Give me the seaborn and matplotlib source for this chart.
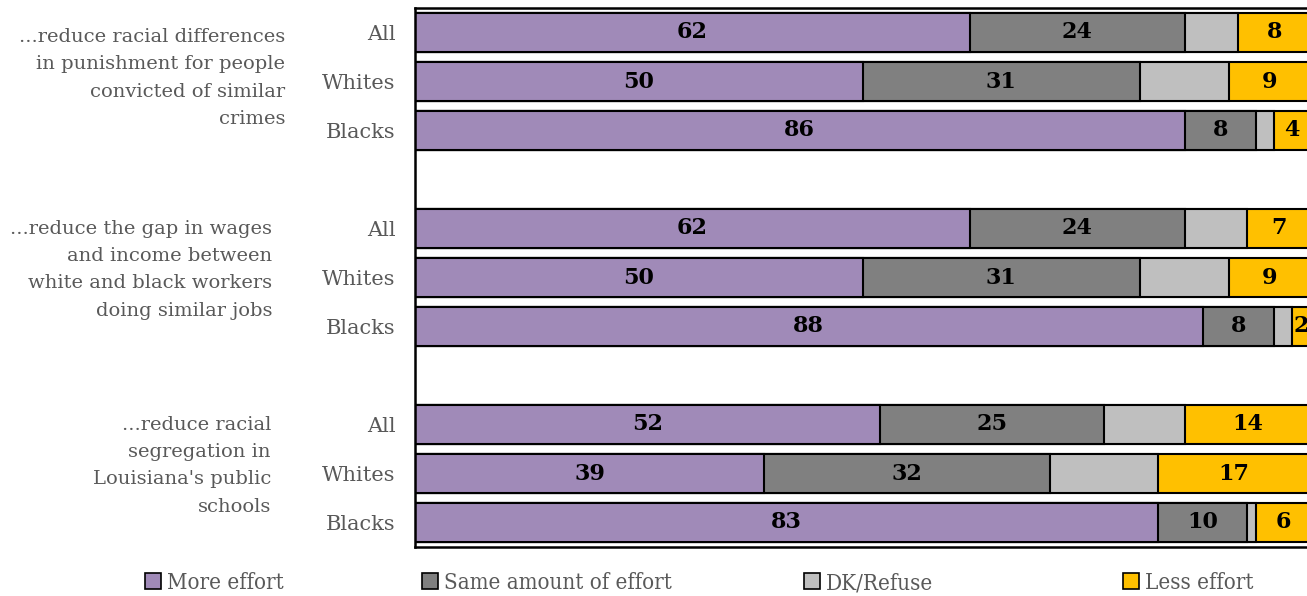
import matplotlib
matplotlib.use("Agg")
import matplotlib.pyplot as plt
import matplotlib.transforms as mtransforms
from matplotlib.patches import Patch
import numpy as np
import pandas as pd
import seaborn as sns

# Survey responses (percent) per group
questions = [
    "...reduce racial differences\nin punishment for people\nconvicted of similar\ncrimes",
    "...reduce the gap in wages\nand income between\nwhite and black workers\ndoing similar jobs",
    "...reduce racial\nsegregation in\nLouisiana's public\nschools",
]
groups = ["All", "Whites", "Blacks"]
more_effort = [62, 50, 86, 62, 50, 88, 52, 39, 83]
same_effort = [24, 31, 8, 24, 31, 8, 25, 32, 10]
dk_refuse = [6, 10, 2, 7, 10, 2, 9, 12, 1]
less_effort = [8, 9, 4, 7, 9, 2, 14, 17, 6]
series_names = ["More effort", "Same amount of effort", "DK/Refuse", "Less effort"]
colors = ["#A08AB8", "#808080", "#BFBFBF", "#FFC000"]

sns.set_theme(style="white")
plt.rcParams["font.family"] = ["DejaVu Serif"]

# row positions: three bars per question, one empty slot between questions
pos = []
for q in range(len(questions)):
    pos += [q * 4 + i for i in range(3)]

df = pd.DataFrame({
    "pos": pos,
    "label": groups * len(questions),
    "more": more_effort,
    "same": same_effort,
    "dk": dk_refuse,
    "less": less_effort,
})
df["c1"] = df["more"]
df["c2"] = df["c1"] + df["same"]
df["c3"] = df["c2"] + df["dk"]
df["c4"] = df["c3"] + df["less"]

W, H = 1307, 596
fig = plt.figure(figsize=(W / 100, H / 100), dpi=100)
ax = fig.add_axes([415 / W, 49 / H, 895 / W, 539 / H])

# overlay cumulative totals, widest first, to build the stacks
for col, color in zip(["c4", "c3", "c2", "c1"], colors[::-1]):
    sns.barplot(data=df, x=col, y="pos", orient="h", native_scale=True,
                color=color, saturation=1, width=0.8, edgecolor="black",
                linewidth=1.5, ax=ax)

ax.set_xlim(0, 100)
ax.set_ylim(10.5, -0.5)
ax.set_xlabel("")
ax.set_ylabel("")
ax.set_xticks([])
ax.set_yticks(df["pos"])
ax.set_yticklabels(df["label"], color="#595959", fontsize=15)
ax.tick_params(axis="y", length=0, pad=14)
for side in ["left", "top", "bottom"]:
    ax.spines[side].set_visible(True)
    ax.spines[side].set_color("black")
    ax.spines[side].set_linewidth(1.8)
ax.spines["right"].set_visible(False)

# value labels on each labelled segment
for _, r in df.iterrows():
    for start, val in [(0, r["more"]), (r["c1"], r["same"]), (r["c3"], r["less"])]:
        ax.text(start + val / 2, r["pos"], f"{val:d}", ha="center", va="center",
                fontsize=16, fontweight="bold", color="black", clip_on=False)

# question labels to the left of each group
blend = mtransforms.blended_transform_factory(fig.transFigure, ax.transData)
label_x = [285, 272, 271]
label_dy = [-0.07, -0.16, -0.16]
for q, text in enumerate(questions):
    ax.text(label_x[q] / W, q * 4 + 1 + label_dy[q], text, transform=blend,
            ha="right", va="center", fontsize=14, color="#595959",
            linespacing=1.67)

# legend entries spread along the bottom
leg_x = [145, 422, 804, 1123]
for x, name, color in zip(leg_x, series_names, colors):
    h = Patch(facecolor=color, edgecolor="black", linewidth=1.2)
    leg = fig.legend(handles=[h], labels=[name], loc="center left",
                     bbox_to_anchor=(x / W, 1 - 583 / H), frameon=False,
                     handlelength=0.7, handleheight=0.7, handletextpad=0.3,
                     borderpad=0, borderaxespad=0,
                     prop={"size": 16, "stretch": "condensed", "family": "DejaVu Serif"})
    for t in leg.get_texts():
        t.set_color("#595959")

fig.savefig("out.png", dpi=100)
